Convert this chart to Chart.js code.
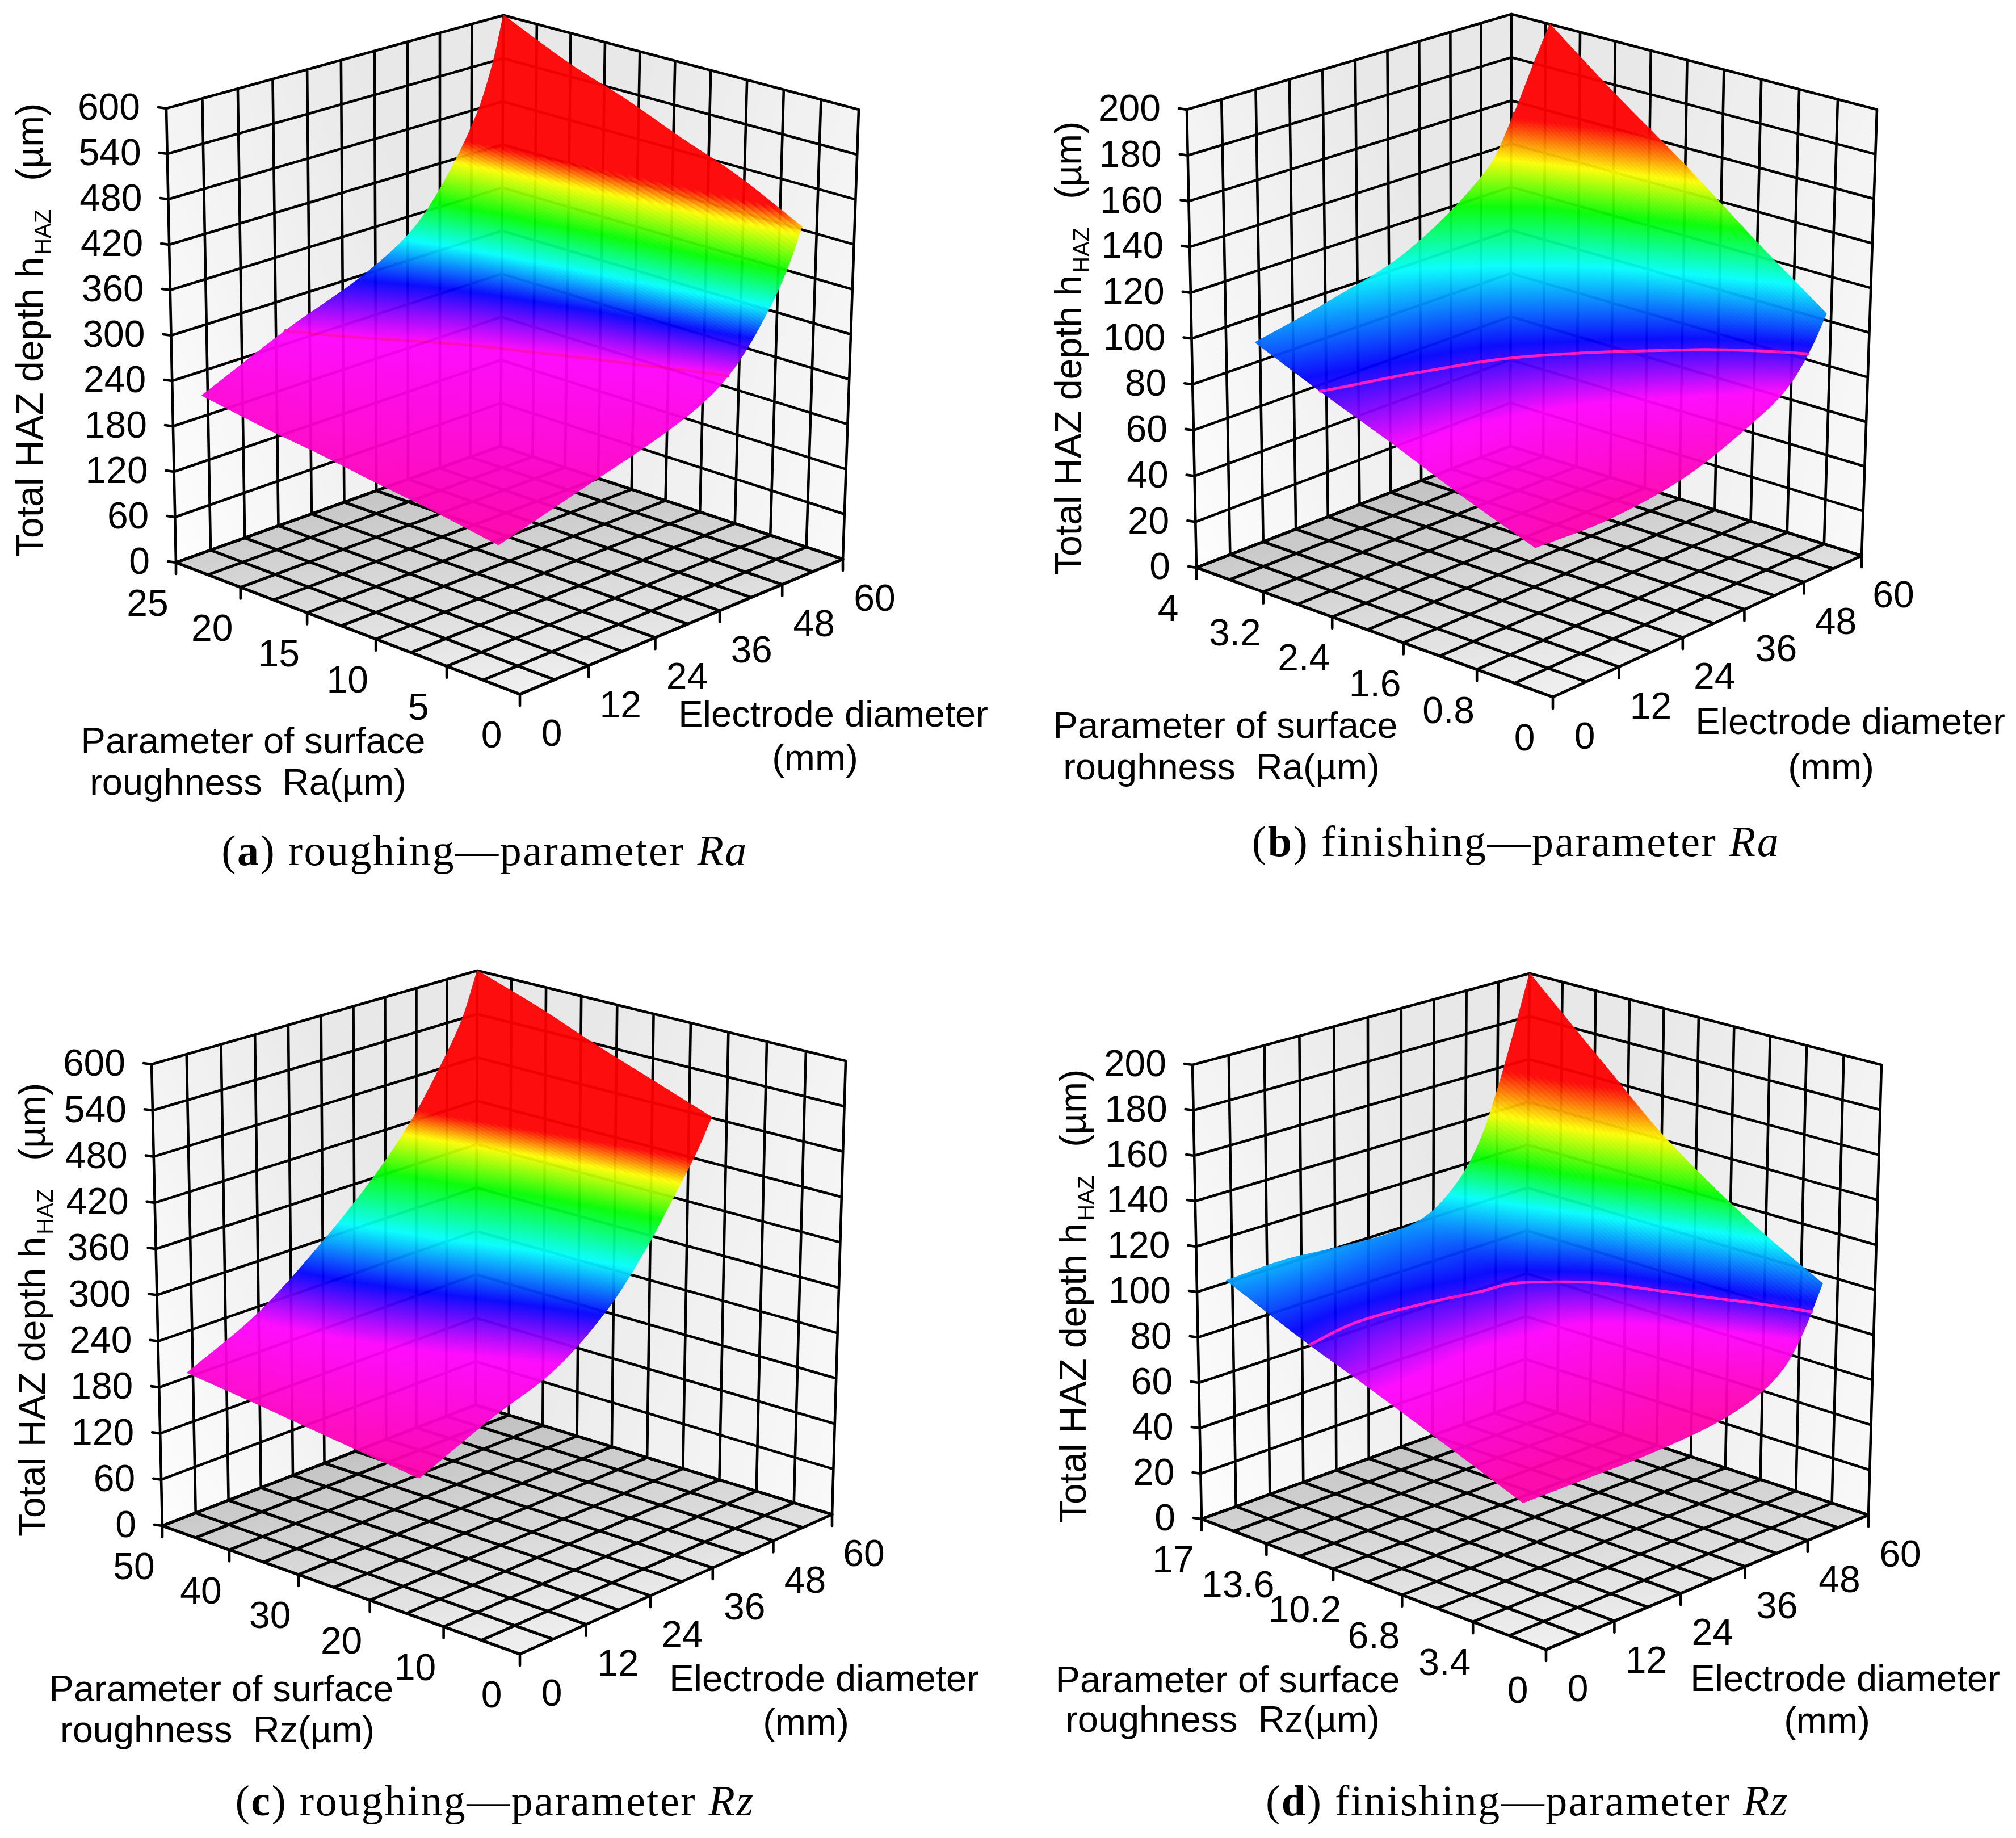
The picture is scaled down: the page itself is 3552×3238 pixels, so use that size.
<!DOCTYPE html>
<html>
<head>
<meta charset="utf-8">
<title>Total HAZ depth</title>
<script src="https://cdn.jsdelivr.net/npm/chart.js@4/dist/chart.umd.min.js"></script>
<style>
  html, body { margin: 0; padding: 0; background: #fff; }
  canvas { display: block; }
</style>
</head>
<body>
<canvas id="hazChart" width="3552" height="3238"></canvas>
<script>
// axis ticks
const depthTicksRoughing = [0, 60, 120, 180, 240, 300, 360, 420, 480, 540, 600];
const depthTicksFinishing = [0, 20, 40, 60, 80, 100, 120, 140, 160, 180, 200];
const raTicksRoughing = [0, 5, 10, 15, 20, 25];
const raTicksFinishing = [0, 0.8, 1.6, 2.4, 3.2, 4];
const rzTicksRoughing = [0, 10, 20, 30, 40, 50];
const rzTicksFinishing = [0, 3.4, 6.8, 10.2, 13.6, 17];
const diameterTicks = [0, 12, 24, 36, 48, 60];

// (a) roughing, Ra: depth per roughness row and diameter column
const diameterA = [5, 20, 34, 43, 49, 55, 58, 60];
const roughnessA = [3.5, 8, 12, 16, 20, 25];
const depthA = [
  [150, 182, 212, 240, 277, 340, 385, 424],
  [164, 201, 233, 264, 306, 375, 425, 468],
  [174, 214, 248, 281, 326, 398, 452, 498],
  [185, 228, 262, 300, 348, 422, 479, 530],
  [194, 241, 278, 317, 368, 444, 503, 557],
  [208, 259, 300, 341, 395, 473, 537, 600],
];

// (b) finishing, Ra
const diameterB = [4.5, 18, 33, 48, 53, 57, 60];
const roughnessB = [0.45, 1.2, 2, 2.8, 3.55];
const depthB = [
  [52, 51, 56, 70, 78, 90, 103],
  [63, 64, 71, 88, 99, 113, 126],
  [76, 79, 87, 106, 121, 137, 152],
  [88, 93, 102, 124, 142, 161, 176],
  [100, 107, 118, 143, 164, 185, 200],
];

// (c) roughing, Rz
const diameterC = [5, 18, 30, 40, 47, 52, 57, 60];
const roughnessC = [17, 25, 33, 41, 50];
const depthC = [
  [150, 190, 222, 275, 333, 385, 440, 481],
  [159, 200, 240, 296, 352, 404, 460, 510],
  [168, 211, 260, 318, 372, 424, 480, 539],
  [177, 222, 279, 341, 396, 449, 510, 570],
  [186, 232, 297, 363, 421, 475, 539, 600],
];

// (d) finishing, Rz
const diameterD = [5, 15, 25, 34, 41, 47, 51, 54, 57, 60];
const roughnessD = [2.4, 6, 10, 13, 17];
const depthD = [
  [49, 49, 49, 50, 52, 56, 61, 68, 80, 96],
  [62, 61, 60, 61, 63, 69, 78, 88, 100, 115],
  [76, 75, 74, 75, 77, 84, 96, 110, 125, 141],
  [86, 84, 85, 87, 89, 100, 113, 130, 148, 166],
  [101, 102, 100, 99, 102, 114, 130, 150, 174, 200],
];

// depth at which each spectrum colour is reached, per panel
const spectrum = [[255, 0, 170], [255, 0, 255], [0, 0, 255], [0, 255, 255], [0, 255, 0], [255, 255, 0], [255, 0, 0]];
const levelsA = [150, 258, 295, 330, 370, 415, 440];
const levelsB = [50, 75, 91, 112, 130, 146, 162];
const levelsC = [150, 225, 268, 315, 366, 406, 432];
const levelsD = [52, 74, 88, 108, 122, 140, 158];

const SANS = '"Liberation Sans", Arial, sans-serif';
const SERIF = '"Liberation Serif", "Times New Roman", serif';

// box corners in canvas units: F front, L left, B back, R right (floor, then top)
const panels = [
  {
    floor: { F: [916, 1223], L: [310, 991], B: [882, 786], R: [1485, 985] },
    top: { F: [925, 383], L: [293, 191], B: [887, 27], R: [1513, 193] },
    depthTicks: depthTicksRoughing, roughTicks: raTicksRoughing,
    diameter: diameterA, roughness: roughnessA, depth: depthA, levels: levelsA,
    contours: [[258, '#ff00c0']],
    title: { x: 75, y: 981 },
    rough: ['Parameter of surface', 446, 1309, 'roughness  Ra(µm)', 437, 1382],
    elec: [1468, 1262, 1436, 1339],
    caption: { letter: 'a', name: 'roughing—parameter ', param: 'Ra', x: 854, y: 1504 },
  },
  {
    floor: { F: [2736, 1228], L: [2108, 1000], B: [2661, 786], R: [3280, 979] },
    top: { F: [2740, 390], L: [2091, 193], B: [2663, 25], R: [3307, 193] },
    depthTicks: depthTicksFinishing, roughTicks: raTicksFinishing,
    diameter: diameterB, roughness: roughnessB, depth: depthB, levels: levelsB,
    contours: [[88, '#ff10c0'], [164, '#ff0000']],
    title: { x: 1905, y: 1013 },
    rough: ['Parameter of surface', 2159, 1282, 'roughness  Ra(µm)', 2152, 1355],
    elec: [3260, 1275, 3226, 1355],
    caption: { letter: 'b', name: 'finishing—parameter ', param: 'Ra', x: 2671, y: 1488 },
  },
  {
    floor: { F: [916, 2914], L: [286, 2688], B: [838, 2475], R: [1466, 2668] },
    top: { F: [920, 2065], L: [267, 1875], B: [841, 1710], R: [1490, 1869] },
    depthTicks: depthTicksRoughing, roughTicks: rzTicksRoughing,
    diameter: diameterC, roughness: roughnessC, depth: depthC, levels: levelsC,
    contours: [],
    title: { x: 79, y: 2707 },
    rough: ['Parameter of surface', 390, 2979, 'roughness  Rz(µm)', 383, 3051],
    elec: [1452, 2961, 1420, 3038],
    caption: { letter: 'c', name: 'roughing—parameter ', param: 'Rz', x: 872, y: 3178 },
  },
  {
    floor: { F: [2724, 2906], L: [2117, 2676], B: [2687, 2470], R: [3292, 2669] },
    top: { F: [2725, 2066], L: [2101, 1876], B: [2695, 1715], R: [3315, 1876] },
    depthTicks: depthTicksFinishing, roughTicks: rzTicksFinishing,
    diameter: diameterD, roughness: roughnessD, depth: depthD, levels: levelsD,
    contours: [[85, '#ff10d0']],
    title: { x: 1913, y: 2683 },
    rough: ['Parameter of surface', 2163, 2963, 'roughness  Rz(µm)', 2154, 3033],
    elec: [3251, 2961, 3219, 3035],
    caption: { letter: 'd', name: 'finishing—parameter ', param: 'Rz', x: 2691, y: 3178 },
  },
];

// projective map of the unit square onto a floor or top quadrilateral
function makeQuadMap({ F, L, B, R }) {
  const dx1 = L[0] - B[0];
  const dx2 = R[0] - B[0];
  const dy1 = L[1] - B[1];
  const dy2 = R[1] - B[1];
  const sx = F[0] - L[0] + B[0] - R[0];
  const sy = F[1] - L[1] + B[1] - R[1];
  const det = dx1 * dy2 - dx2 * dy1;
  const g = (sx * dy2 - dx2 * sy) / det;
  const h = (dx1 * sy - sx * dy1) / det;
  return (u, v) => {
    const w = g * u + h * v + 1;
    return [
      ((L[0] - F[0] + g * L[0]) * u + (R[0] - F[0] + h * R[0]) * v + F[0]) / w,
      ((L[1] - F[1] + g * L[1]) * u + (R[1] - F[1] + h * R[1]) * v + F[1]) / w,
    ];
  };
}

// u: roughness fraction, v: diameter fraction, w: depth fraction
panels.forEach((panel) => {
  const floorMap = makeQuadMap(panel.floor);
  const topMap = makeQuadMap(panel.top);
  panel.project = (u, v, w) => {
    const a = floorMap(u, v);
    const b = topMap(u, v);
    return { x: a[0] + (b[0] - a[0]) * w, y: a[1] + (b[1] - a[1]) * w };
  };
});

const GAP = { x: null, y: null };

function gridLines(panel) {
  const { project } = panel;
  const walls = [];
  const floor = [];
  for (let i = 0; i <= 10; i += 1) {
    const t = i / 10;
    walls.push(project(1, 0, t), project(1, 1, t), project(0, 1, t), GAP);
    walls.push(project(1, t, 0), project(1, t, 1), GAP);
    walls.push(project(t, 1, 0), project(t, 1, 1), GAP);
    floor.push(project(t, 0, 0), project(t, 1, 0), GAP);
    floor.push(project(0, t, 0), project(1, t, 0), GAP);
  }
  return { walls, floor };
}

function tickMarks(panel) {
  const { project } = panel;
  const marks = [];
  for (let i = 0; i <= 10; i += 1) {
    const a = project(1, 0, i / 10);
    marks.push(a, { x: a.x - 14, y: a.y - 2 }, GAP);
    if (i % 2 === 0) {
      const b = project(i / 10, 0, 0);
      const c = project(0, i / 10, 0);
      marks.push(b, { x: b.x, y: b.y + 20 }, GAP);
      marks.push(c, { x: c.x, y: c.y + 20 }, GAP);
    }
  }
  return marks;
}

function lineDataset(data, width) {
  return {
    data,
    showLine: true,
    pointRadius: 0,
    borderColor: '#000',
    borderWidth: width,
    borderCapStyle: 'round',
    spanGaps: false,
  };
}

const datasets = [];
panels.forEach((panel) => {
  const { walls, floor } = gridLines(panel);
  datasets.push(lineDataset(walls, 4.6));
  datasets.push(lineDataset(floor, 5.2));
  datasets.push(lineDataset(tickMarks(panel), 4.6));
});

function hermite(xs, ys, x) {
  let i = 0;
  while (i < xs.length - 2 && x > xs[i + 1]) i += 1;
  const h = xs[i + 1] - xs[i];
  const t = (x - xs[i]) / h;
  const slope = (k) => {
    const a = Math.max(k - 1, 0);
    const b = Math.min(k + 1, xs.length - 1);
    return (ys[b] - ys[a]) / (xs[b] - xs[a]);
  };
  const t2 = t * t;
  const t3 = t2 * t;
  return (2 * t3 - 3 * t2 + 1) * ys[i] + (t3 - 2 * t2 + t) * h * slope(i)
    + (-2 * t3 + 3 * t2) * ys[i + 1] + (t3 - t2) * h * slope(i + 1);
}

function depthColor(levels, z) {
  let i = 0;
  while (i < levels.length - 2 && z > levels[i + 1]) i += 1;
  const t = Math.min(Math.max((z - levels[i]) / (levels[i + 1] - levels[i]), 0), 1);
  const a = spectrum[i];
  const b = spectrum[i + 1];
  return `rgb(${Math.round(a[0] + (b[0] - a[0]) * t)},${Math.round(a[1] + (b[1] - a[1]) * t)},${Math.round(a[2] + (b[2] - a[2]) * t)})`;
}

const STEPS = 200;

function surfaceSamples(panel) {
  const { roughness, diameter, depth } = panel;
  const roughMax = panel.roughTicks[panel.roughTicks.length - 1];
  const zMax = panel.depthTicks[panel.depthTicks.length - 1];
  const grid = [];
  for (let j = 0; j <= STEPS; j += 1) {
    const d = diameter[0] + (diameter[diameter.length - 1] - diameter[0]) * (j / STEPS);
    const column = depth.map((row) => hermite(diameter, row, d));
    const line = [];
    for (let i = 0; i <= STEPS; i += 1) {
      const r = roughness[0] + (roughness[roughness.length - 1] - roughness[0]) * (i / STEPS);
      const z = hermite(roughness, column, r);
      line.push({ z, p: panel.project(r / roughMax, d / 60, z / zMax) });
    }
    grid.push(line);
  }
  return grid;
}

function fillPolygon(ctx, points, style) {
  ctx.beginPath();
  points.forEach((pt, i) => (i ? ctx.lineTo(pt[0], pt[1]) : ctx.moveTo(pt[0], pt[1])));
  ctx.closePath();
  ctx.fillStyle = style;
  ctx.fill();
}

function toPixels(chart, pt) {
  return [chart.scales.x.getPixelForValue(pt.x), chart.scales.y.getPixelForValue(pt.y)];
}

function drawBox(chart, panel) {
  const { ctx } = chart;
  const p = (u, v, w) => toPixels(chart, panel.project(u, v, w));
  const ramp = (a, b, c0, c1) => {
    const g = ctx.createLinearGradient(a[0], a[1], b[0], b[1]);
    g.addColorStop(0, c0);
    g.addColorStop(1, c1);
    return g;
  };
  fillPolygon(ctx, [p(1, 0, 0), p(1, 1, 0), p(1, 1, 1), p(1, 0, 1)], ramp(p(1, 0, 0), p(1, 1, 0), '#fdfdfd', '#e8e8e8'));
  fillPolygon(ctx, [p(0, 1, 0), p(1, 1, 0), p(1, 1, 1), p(0, 1, 1)], ramp(p(0, 1, 0), p(1, 1, 0), '#f9f9f9', '#e8e8e8'));
  fillPolygon(ctx, [p(0, 0, 0), p(1, 0, 0), p(1, 1, 0), p(0, 1, 0)], ramp(p(1, 1, 0), p(0, 0, 0), '#bebebe', '#f0f0f0'));
}

function contourSegments(grid, level) {
  const segments = [];
  for (let j = 0; j < STEPS; j += 1) {
    for (let i = 0; i < STEPS; i += 1) {
      const corners = [grid[j][i], grid[j][i + 1], grid[j + 1][i + 1], grid[j + 1][i]];
      const hits = [];
      corners.forEach((c, k) => {
        const n = corners[(k + 1) % 4];
        if ((c.z - level) * (n.z - level) < 0) {
          const t = (level - c.z) / (n.z - c.z);
          hits.push({ x: c.p.x + (n.p.x - c.p.x) * t, y: c.p.y + (n.p.y - c.p.y) * t });
        }
      });
      if (hits.length >= 2) segments.push(hits);
    }
  }
  return segments;
}

function drawSurface(chart, panel, layer) {
  const ctx = layer.getContext('2d');
  ctx.clearRect(0, 0, layer.width, layer.height);
  ctx.lineWidth = 1.2;
  ctx.lineJoin = 'round';
  const grid = surfaceSamples(panel);
  // back corner first, so that nearer cells cover farther ones
  for (let j = STEPS - 1; j >= 0; j -= 1) {
    for (let i = STEPS - 1; i >= 0; i -= 1) {
      const cell = [grid[j][i], grid[j][i + 1], grid[j + 1][i + 1], grid[j + 1][i]];
      const color = depthColor(panel.levels, (cell[0].z + cell[1].z + cell[2].z + cell[3].z) / 4);
      fillPolygon(ctx, cell.map((c) => toPixels(chart, c.p)), color);
      ctx.strokeStyle = color;
      ctx.stroke();
    }
  }
  panel.contours.forEach(([level, color]) => {
    ctx.beginPath();
    contourSegments(grid, level).forEach((hits) => {
      const a = toPixels(chart, hits[0]);
      const b = toPixels(chart, hits[1]);
      ctx.moveTo(a[0], a[1]);
      ctx.lineTo(b[0], b[1]);
    });
    ctx.strokeStyle = color;
    ctx.lineWidth = 5;
    ctx.lineCap = 'round';
    ctx.stroke();
    ctx.lineWidth = 1.2;
  });
  chart.ctx.save();
  chart.ctx.globalAlpha = 0.94;
  chart.ctx.drawImage(layer, 0, 0);
  chart.ctx.restore();
}

function drawPieces(ctx, pieces) {
  let x = 0;
  pieces.forEach((piece) => {
    ctx.font = piece.font;
    ctx.fillText(piece.text, x, piece.dy || 0);
    x += ctx.measureText(piece.text).width + (piece.gap || 0);
  });
  return x;
}

function piecesWidth(ctx, pieces) {
  return pieces.reduce((sum, piece) => {
    ctx.font = piece.font;
    return sum + ctx.measureText(piece.text).width + (piece.gap || 0);
  }, 0);
}

function drawTexts(chart, panel) {
  const { ctx } = chart;
  const { project } = panel;
  const at = (x, y) => toPixels(chart, { x, y });
  ctx.save();
  ctx.fillStyle = '#000';

  // depth ticks
  ctx.font = `66px ${SANS}`;
  ctx.textAlign = 'right';
  ctx.textBaseline = 'middle';
  panel.depthTicks.forEach((tick, i) => {
    const pt = project(1, 0, i / 10);
    const [x, y] = at(pt.x - 46, pt.y + 2);
    ctx.fillText(String(tick), x, y);
  });

  // floor ticks
  ctx.textAlign = 'center';
  panel.roughTicks.forEach((tick, i) => {
    const pt = project(i / 5, 0, 0);
    const [x, y] = at(pt.x - 50, pt.y + 76);
    ctx.fillText(String(tick), x, y);
  });
  diameterTicks.forEach((tick, i) => {
    const pt = project(0, i / 5, 0);
    const [x, y] = at(pt.x + 56, pt.y + 73);
    ctx.fillText(String(tick), x, y);
  });

  // axis names
  ctx.font = `65px ${SANS}`;
  const { rough, elec } = panel;
  ctx.fillText(rough[0], ...at(rough[1], rough[2]));
  ctx.fillText(rough[3], ...at(rough[4], rough[5]));
  ctx.fillText('Electrode diameter', ...at(elec[0], elec[1]));
  ctx.fillText('(mm)', ...at(elec[2], elec[3]));

  // vertical title with subscript
  ctx.save();
  ctx.translate(...at(panel.title.x, panel.title.y));
  ctx.rotate(-Math.PI / 2);
  ctx.textAlign = 'left';
  ctx.textBaseline = 'alphabetic';
  drawPieces(ctx, [
    { text: 'Total HAZ depth h', font: `66px ${SANS}`, gap: 4 },
    { text: 'HAZ', font: `40px ${SANS}`, dy: 14, gap: 50 },
    { text: '(µm)', font: `66px ${SANS}` },
  ]);
  ctx.restore();

  // caption
  const { caption } = panel;
  const serif = `76px ${SERIF}`;
  const pieces = [
    { text: '(', font: serif },
    { text: caption.letter, font: `bold 76px ${SERIF}` },
    { text: ') ', font: serif },
    { text: caption.name, font: serif },
    { text: caption.param, font: `italic 76px ${SERIF}` },
  ];
  ctx.textAlign = 'left';
  ctx.textBaseline = 'middle';
  ctx.letterSpacing = '2.5px';
  const [cx, cy] = at(caption.x, caption.y);
  ctx.save();
  ctx.translate(cx - piecesWidth(ctx, pieces) / 2, cy);
  drawPieces(ctx, pieces);
  ctx.restore();
  ctx.letterSpacing = '0px';
  ctx.restore();
}

const surfaceLayer = document.createElement('canvas');
surfaceLayer.width = 3552;
surfaceLayer.height = 3238;

const boxPlugin = {
  id: 'hazBox',
  beforeDatasetsDraw(chart) {
    panels.forEach((panel) => drawBox(chart, panel));
  },
  afterDatasetsDraw(chart) {
    panels.forEach((panel) => {
      drawSurface(chart, panel, surfaceLayer);
      drawTexts(chart, panel);
    });
  },
};

document.addEventListener('DOMContentLoaded', () => {
  // eslint-disable-next-line no-new,no-undef
  new Chart(document.getElementById('hazChart'), {
    type: 'scatter',
    data: { datasets },
    options: {
      animation: false,
      responsive: false,
      devicePixelRatio: 1,
      layout: { padding: 0 },
      events: [],
      plugins: { legend: { display: false }, tooltip: { enabled: false } },
      scales: {
        x: { type: 'linear', min: 0, max: 3552, display: false },
        y: { type: 'linear', min: 0, max: 3238, reverse: true, display: false },
      },
    },
    plugins: [boxPlugin],
  });
});
</script>
</body>
</html>
